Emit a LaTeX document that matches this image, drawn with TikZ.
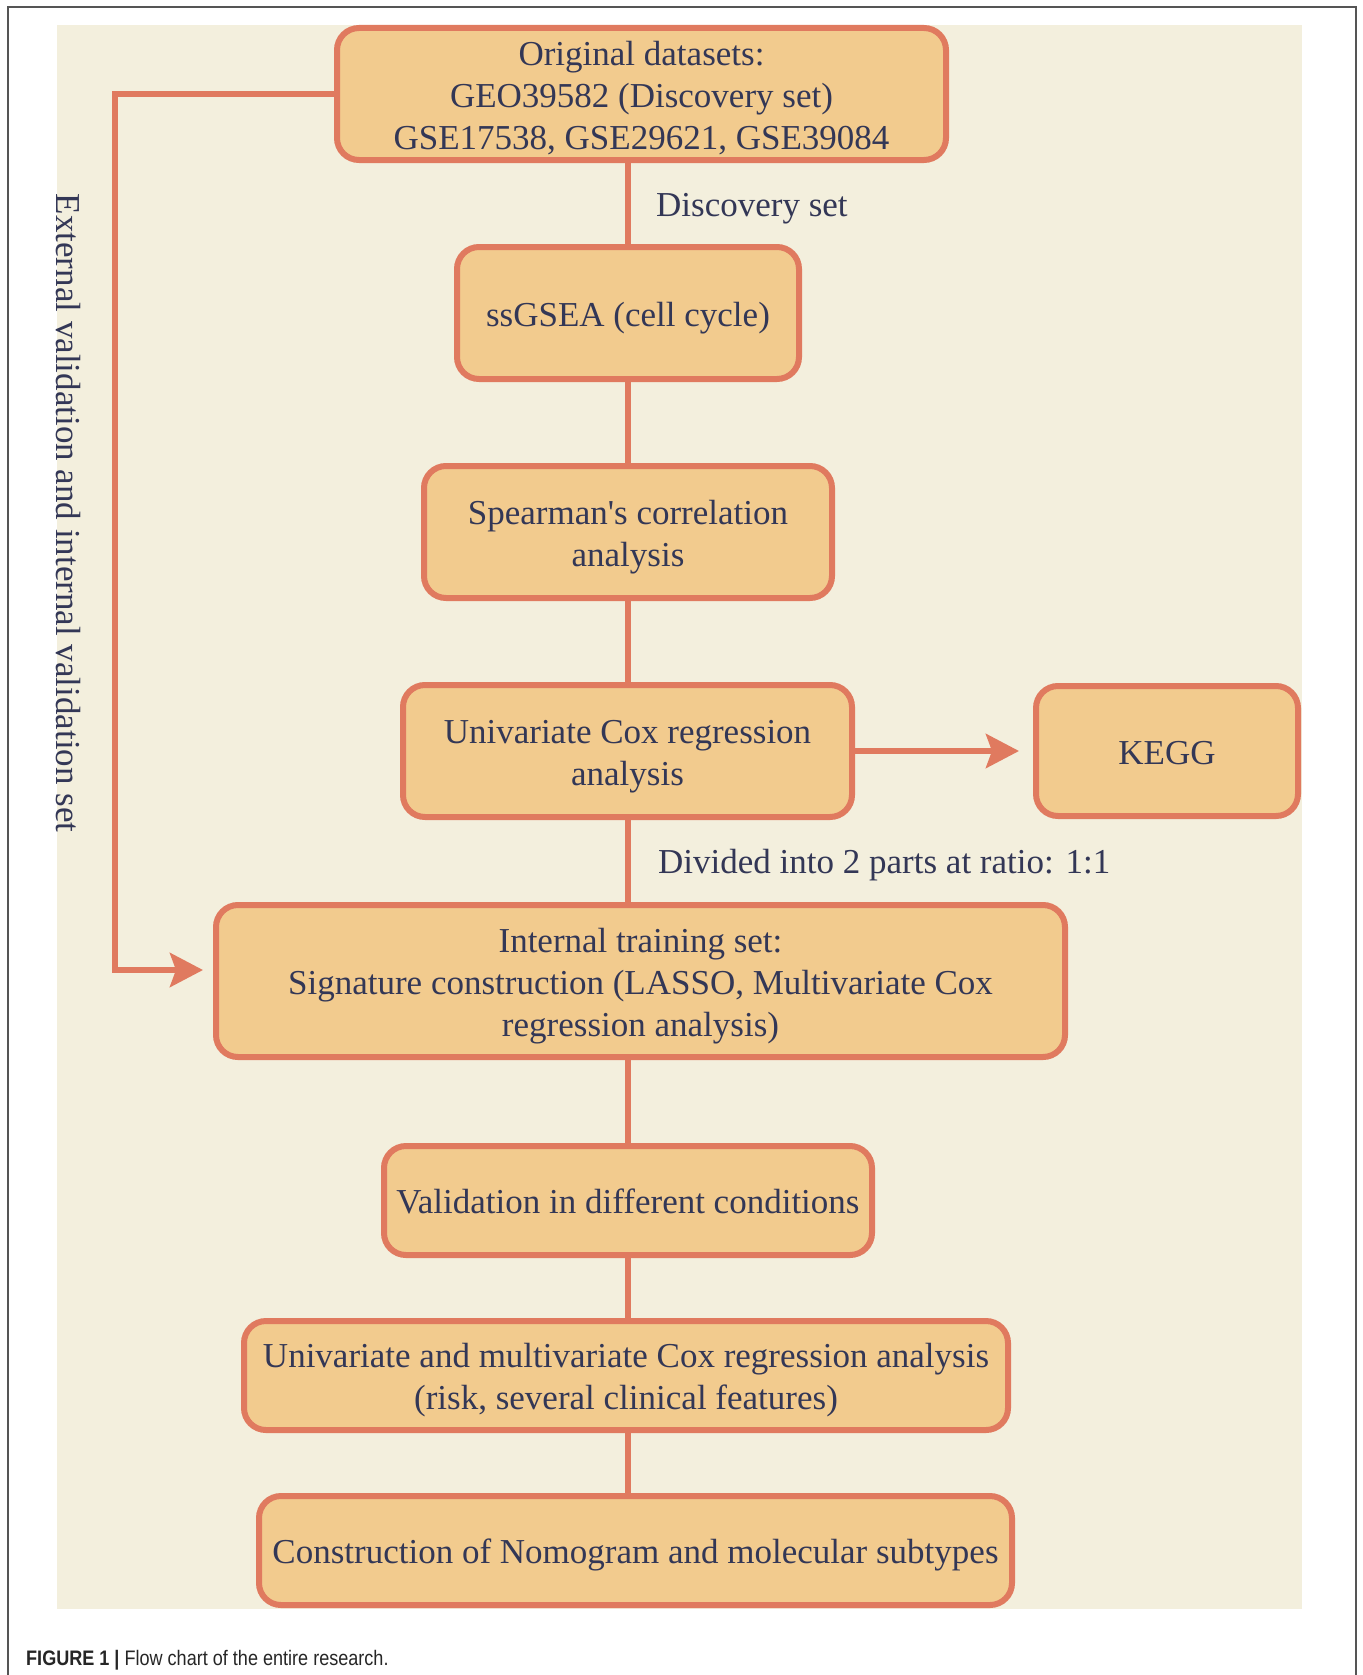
\documentclass[tikz,border=0pt]{standalone}
\usepackage{fontspec}
\setmainfont{Liberation Serif}
\newfontfamily\capfont{Liberation Sans}
\usetikzlibrary{arrows.meta}
\definecolor{bgc}{HTML}{F3EFDD}
\definecolor{boxfill}{HTML}{F2CB8E}
\definecolor{boxline}{HTML}{E07A5F}
\definecolor{txt}{HTML}{333756}
\definecolor{framec}{HTML}{555555}
\newcommand\lowtext[1]{\raisebox{-5pt}[\height][\depth]{\begin{tabular}{@{}c@{}}#1\end{tabular}}}
\newcommand\straightq{{\addfontfeatures{Ligatures=TeXOff}'}}
\tikzset{
  flowbox/.style={draw=boxline, fill=boxfill, line width=6pt, rounded corners=22pt,
    inner sep=0pt, text=txt, font=\fontsize{35}{42}\selectfont},
  conn/.style={draw=boxline, line width=6pt},
  arr/.style={conn, -{Stealth[length=33pt,width=34pt,inset=6pt]}},
  lbl/.style={text=txt, font=\fontsize{35}{42}\selectfont, inner sep=0pt}
}
\begin{document}
\begin{tikzpicture}[x=1pt,y=-1pt]
\useasboundingbox (0,0) rectangle (1362,1675);
\fill[white] (0,0) rectangle (1362,1675);
\draw[framec, line width=1.5pt] (8,1675) -- (8,7) -- (1356,7) -- (1356,1675);
\fill[bgc] (57,25) rectangle (1302,1609);

\node[flowbox, minimum width=609pt, minimum height=132pt] (b1) at (641.5,94)
  {\lowtext{Original datasets:\\GEO39582 (Discovery set)\\GSE17538, GSE29621, GSE39084}};
\node[flowbox, minimum width=342pt, minimum height=132pt] (b2) at (628,313)
  {\lowtext{ssGSEA (cell cycle)}};
\node[flowbox, minimum width=408pt, minimum height=132pt] (b3) at (628,532)
  {\lowtext{Spearman\straightq s correlation\\analysis}};
\node[flowbox, minimum width=449pt, minimum height=132pt] (b4) at (627.5,751)
  {\lowtext{Univariate Cox regression\\analysis}};
\node[flowbox, minimum width=262pt, minimum height=130pt] (kegg) at (1167,751)
  {\lowtext{KEGG}};
\node[flowbox, minimum width=849pt, minimum height=152pt] (b5) at (640.5,981)
  {\lowtext{Internal training set:\\Signature construction (LASSO, Multivariate Cox\\regression analysis)}};
\node[flowbox, minimum width=488pt, minimum height=109pt] (b6) at (628,1200.5)
  {\lowtext{Validation in different conditions}};
\node[flowbox, minimum width=764pt, minimum height=109pt] (b7) at (626,1375.5)
  {\lowtext{Univariate and multivariate Cox regression analysis\\(risk, several clinical features)}};
\node[flowbox, minimum width=753pt, minimum height=109pt] (b8) at (635.5,1550.5)
  {\lowtext{Construction of Nomogram and molecular subtypes}};

\coordinate (corner) at (115,970);
\coordinate (tip) at (203,970);
\coordinate (keggtip) at (1019,751);

\draw[conn] (b1.south -| b2.north) -- (b2.north);
\draw[conn] (b2.south) -- (b3.north);
\draw[conn] (b3.south) -- (b4.north -| b3.south);
\draw[conn] (b4.south) -- (b4.south |- b5.north);
\draw[conn] (b5.south -| b6.north) -- (b6.north);
\draw[conn] (b6.south) -- (b6.south |- b7.north);
\draw[conn] (b7.south -| b6.south) -- (b8.north -| b6.south);
\draw[arr] (b4.east) -- (keggtip);
\draw[arr] (b1.west) -| (corner) -- (tip);

\node[lbl, anchor=west] (l1) at (656,209) {Discovery set};
\node[lbl, anchor=west] (l2) at (658,865) {Divided into 2 parts at ratio: 1:1};
\node[lbl, rotate=-90] (l3) at (68,513) {External validation and internal validation set};

\node[anchor=base west, inner sep=0pt, text=black!85] (cap) at (26,1665)
  {\capfont\fontsize{21}{24}\selectfont\scalebox{0.86}[1]{\textbf{FIGURE 1 |} Flow chart of the entire research.}};
\end{tikzpicture}
\end{document}
